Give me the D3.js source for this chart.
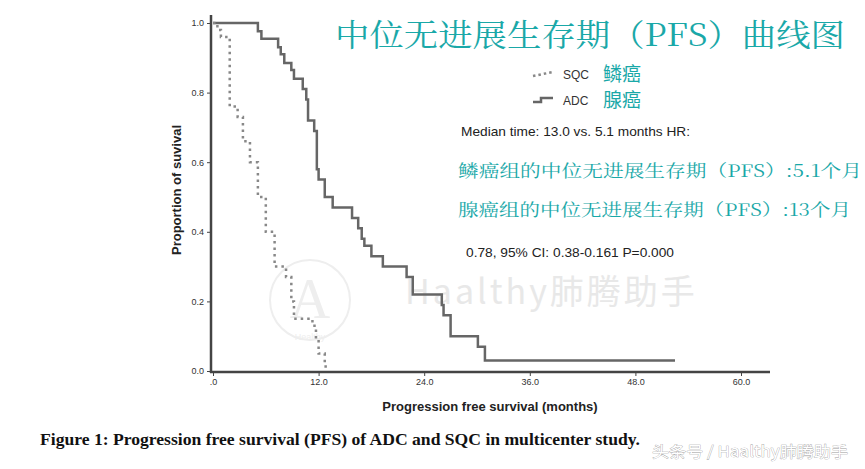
<!DOCTYPE html><html><head><meta charset="utf-8"><script src="https://cdn.jsdelivr.net/npm/d3@7"></script>
<style>body{margin:0;background:#fff}</style></head><body><svg id="c" width="865" height="469"></svg>
<script>
const xTicks=[0,12,24,36,48,60];
const xTickLabels=[".0","12.0","24.0","36.0","48.0","60.0"];
const yTicks=[0,0.2,0.4,0.6,0.8,1.0];
const adcTime=[0,5.1,5.5,7.4,7.7,8.1,8.9,9.2,10.2,10.6,10.8,11.5,11.8,12.0,12.7,13.6,15.8,16.5,16.9,17.2,18.0,19.3,22.0,22.7,26.0,26.2,27.0,30.1,30.9,52.5];
const adcSurv=[1.0,0.976,0.955,0.93,0.91,0.885,0.865,0.84,0.81,0.78,0.72,0.69,0.58,0.55,0.50,0.47,0.44,0.41,0.38,0.36,0.33,0.30,0.27,0.22,0.19,0.16,0.10,0.07,0.03,0.03];
const sqcTime=[0,0.5,0.9,1.9,2.8,3.4,4.2,5.1,6.0,7.0,8.3,8.9,9.2,10.9,11.3,11.7,12.0,12.7,12.8];
const sqcSurv=[1.0,0.98,0.96,0.76,0.73,0.66,0.60,0.50,0.40,0.30,0.27,0.20,0.15,0.15,0.13,0.09,0.05,0.02,0.0];
const svg=d3.select("#c");
const x=d3.scaleLinear().domain([0,60]).range([213,741]);
const y=d3.scaleLinear().domain([0,1]).range([371,23]);
const sty=g=>{g.select(".domain").remove();g.selectAll("text").attr("font-family","Liberation Sans").attr("font-size",9).attr("fill","#333");g.selectAll("line").attr("stroke","#444");};
svg.append("g").attr("transform","translate(0,372)").call(d3.axisBottom(x).tickValues(xTicks).tickFormat((d,i)=>xTickLabels[i]).tickSize(4)).call(sty);
svg.append("g").attr("transform","translate(211,0)").call(d3.axisLeft(y).tickValues(yTicks).tickFormat(d3.format(".1f")).tickSize(4)).call(sty);
svg.append("text").attr("x",405).attr("y",304).text("Haalthy肺腾助手").attr("font-family","Noto Sans CJK SC").attr("font-size",34).attr("fill","#e8e8e8").attr("letter-spacing",3);
svg.append("ellipse").attr("cx",310).attr("cy",300).attr("rx",40).attr("ry",40).attr("fill","none").attr("stroke","#eee").attr("stroke-width",2);
svg.append("text").attr("x",310).attr("y",318).attr("text-anchor","middle").text("A").attr("font-family","Liberation Serif").attr("font-size",56).attr("fill","#eee");
svg.append("text").attr("x",310).attr("y",340).attr("text-anchor","middle").text("Healthy").attr("font-family","Liberation Sans").attr("font-size",9).attr("fill","#eee");
svg.append("line").attr("x1",211).attr("x2",211).attr("y1",15).attr("y2",373).attr("stroke","#444").attr("stroke-width",2.5);
svg.append("line").attr("x1",210).attr("x2",770).attr("y1",372).attr("y2",372).attr("stroke","#444").attr("stroke-width",2.5);
const line=d3.line().x(d=>x(d[0])).y(d=>y(d[1])).curve(d3.curveStepAfter);
svg.append("path").datum(adcTime.map((t,i)=>[t,adcSurv[i]])).attr("d",line).attr("fill","none").attr("stroke","#666").attr("stroke-width",2.5);
svg.append("path").datum(sqcTime.map((t,i)=>[t,sqcSurv[i]])).attr("d",line).attr("fill","none").attr("stroke","#888").attr("stroke-width",2.5).attr("stroke-dasharray","2.5,4");
svg.append("text").attr("transform","translate(181,190) rotate(-90)").attr("text-anchor","middle").text("Proportion of suvival").attr("font-family","Liberation Sans").attr("font-weight","bold").attr("font-size",13).attr("fill","#222");
svg.append("text").attr("x",490).attr("y",411).attr("text-anchor","middle").text("Progression free survival (months)").attr("font-family","Liberation Sans").attr("font-weight","bold").attr("font-size",13).attr("fill","#222");
const teal="#1aa8a8";
const t=(xx,yy,s,fs,fam,fill,len,extra)=>{const e=svg.append("text").attr("x",xx).attr("y",yy).text(s).attr("font-size",fs).attr("font-family",fam).attr("fill",fill);if(len)e.attr("textLength",len).attr("lengthAdjust","spacingAndGlyphs");if(extra)extra(e);return e;};
const serif="Noto Serif CJK SC, Noto Sans CJK SC";
t(335,46,"中位无进展生存期（PFS）曲线图",31,serif,teal,510);
svg.append("line").attr("x1",533).attr("x2",553).attr("y1",76).attr("y2",72).attr("stroke","#888").attr("stroke-width",2.5).attr("stroke-dasharray","2.5,3");
svg.append("path").attr("d","M533,102 L541,102 L541,98 L553,98").attr("fill","none").attr("stroke","#666").attr("stroke-width",2.5);
t(563,79,"SQC",12,"Liberation Sans","#333");
t(563,105,"ADC",12,"Liberation Sans","#333");
t(603,81,"鳞癌",19,"Noto Sans CJK SC",teal);
t(603,107,"腺癌",19,"Noto Sans CJK SC",teal);
t(461,136,"Median time: 13.0 vs. 5.1 months HR:",13,"Liberation Sans","#222",229);
t(458,177,"鳞癌组的中位无进展生存期（PFS）:5.1个月",17,serif,teal,404);
t(458,216,"腺癌组的中位无进展生存期（PFS）:13个月",17,serif,teal,393);
t(466,257,"0.78, 95% CI: 0.38-0.161 P=0.000",13,"Liberation Sans","#222",208);
t(40,445,"Figure 1: Progression free survival (PFS) of ADC and SQC in multicenter study.",16,"Liberation Serif","#111",600,e=>e.attr("font-weight","bold"));
t(652,457,"头条号 / Haalthy肺腾助手",15,"Noto Sans CJK SC","#fff",196,e=>e.attr("stroke","#999").attr("stroke-width",0.6).attr("paint-order","stroke"));
</script></body></html>
